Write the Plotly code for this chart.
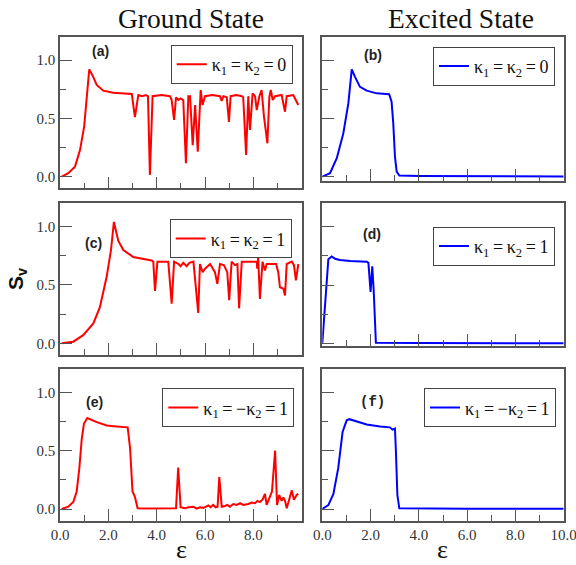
import plotly.graph_objects as go

# ---------------- data ----------------
# (a) ground state, kappa1 = kappa2 = 0
xa = [0.07, 0.34, 0.62, 0.83, 1.0, 1.13, 1.21, 1.34, 1.52, 1.79, 2.2, 2.97, 3.1, 3.24, 3.4, 3.55, 3.64, 3.72,
      3.83, 4.2, 4.55, 4.62, 4.72, 4.80, 4.90, 4.99, 5.10, 5.21, 5.31, 5.38, 5.49, 5.59, 5.70, 5.82, 5.90,
      6.0, 6.3, 6.62, 6.69, 6.76, 6.90, 6.99, 7.06, 7.3, 7.52, 7.58, 7.70, 7.79, 7.86, 7.97, 8.07, 8.14,
      8.25, 8.34, 8.44, 8.58, 8.66, 8.72, 8.80, 8.90, 9.17, 9.31, 9.38, 9.65, 9.76, 9.86]
ya = [0.0, 0.03, 0.086, 0.23, 0.43, 0.71, 0.92, 0.87, 0.786, 0.737, 0.72, 0.709, 0.51, 0.70, 0.69, 0.70, 0.69, 0.015,
      0.69, 0.70, 0.69, 0.657, 0.486, 0.68, 0.657, 0.67, 0.657, 0.115, 0.69, 0.69, 0.27, 0.614, 0.214, 0.743, 0.614,
      0.69, 0.70, 0.69, 0.65, 0.69, 0.68, 0.47, 0.69, 0.70, 0.69, 0.68, 0.186, 0.69, 0.40, 0.714, 0.69, 0.571,
      0.69, 0.743, 0.514, 0.286, 0.68, 0.743, 0.657, 0.69, 0.70, 0.557, 0.69, 0.70, 0.65, 0.614]

# (b) excited state, kappa1 = kappa2 = 0
xb = [0.0, 0.32, 0.6, 0.87, 1.08, 1.22, 1.35, 1.56, 1.84, 2.25, 2.77, 2.87, 2.94, 3.01, 3.08, 3.19, 4.0, 6.0, 8.0, 10.0]
yb = [0.0, 0.03, 0.158, 0.37, 0.63, 0.92, 0.857, 0.77, 0.737, 0.714, 0.706, 0.643, 0.457, 0.171, 0.043, 0.009,
      0.006, 0.004, 0.003, 0.002]

# (c) ground state, kappa1 = kappa2 = 1
xc = [0.07, 0.55, 0.96, 1.38, 1.65, 1.93, 2.11, 2.23, 2.41, 2.62, 3.03, 3.79, 3.86, 3.93, 4.03, 4.48, 4.62, 4.72,
      4.9, 4.99, 5.1, 5.24, 5.35, 5.52, 5.72, 5.79, 5.9, 6.0, 6.21, 6.41, 6.51, 6.62, 6.78, 6.92, 7.0, 7.1,
      7.24, 7.34, 7.41, 7.52, 8.14, 8.16, 8.2, 8.27, 8.38, 8.48, 8.55, 8.94, 9.03, 9.1, 9.24, 9.31, 9.38,
      9.59, 9.68, 9.76, 9.86]
yc = [0.0, 0.014, 0.07, 0.17, 0.31, 0.57, 0.80, 1.04, 0.88, 0.80, 0.74, 0.71, 0.70, 0.45, 0.70, 0.70, 0.34, 0.70,
      0.68, 0.66, 0.69, 0.66, 0.69, 0.70, 0.26, 0.68, 0.61, 0.64, 0.68, 0.61, 0.51, 0.68, 0.67, 0.61, 0.37, 0.70,
      0.67, 0.68, 0.30, 0.70, 0.70, 0.64, 0.74, 0.38, 0.70, 0.625, 0.68, 0.68, 0.61, 0.48, 0.47, 0.41, 0.68,
      0.70, 0.67, 0.54, 0.68]

# (d) excited state, kappa1 = kappa2 = 1
xd = [0.0, 0.11, 0.25, 0.39, 0.53, 0.73, 1.15, 1.84, 1.91, 2.0, 2.07, 2.13, 2.22, 4.0, 6.0, 8.0, 10.0]
yd = [0.0, 0.31, 0.72, 0.745, 0.725, 0.715, 0.705, 0.70, 0.69, 0.44, 0.66, 0.45, 0.005, 0.003, 0.002, 0.002, 0.001]

# (e) ground state, kappa1 = -kappa2 = 1
xe = [0.07, 0.34, 0.55, 0.69, 0.8, 0.9, 0.99, 1.13, 1.52, 1.93, 2.34, 2.8, 2.9, 3.0, 3.1, 3.21, 3.6, 4.0, 4.4,
      4.8, 4.89, 4.99, 5.17, 5.31, 5.52, 5.65, 5.79, 5.93, 6.04, 6.14, 6.23, 6.34, 6.44, 6.52, 6.59, 6.69,
      6.83, 6.92, 7.03, 7.17, 7.31, 7.45, 7.58, 7.79, 7.93, 8.07, 8.17, 8.27, 8.38, 8.48, 8.55, 8.66, 8.77,
      8.9, 8.98, 9.07, 9.17, 9.24, 9.31, 9.38, 9.48, 9.59, 9.68, 9.79, 9.86]
ye = [0.0, 0.02, 0.06, 0.15, 0.35, 0.60, 0.73, 0.78, 0.745, 0.716, 0.708, 0.70, 0.52, 0.15, 0.105, 0.006, 0.004,
      0.004, 0.005, 0.006, 0.355, 0.015, 0.006, 0.015, 0.02, 0.003, 0.015, 0.01, 0.02, 0.03, 0.015, 0.035,
      0.015, 0.02, 0.275, 0.02, 0.026, 0.035, 0.02, 0.043, 0.035, 0.05, 0.035, 0.043, 0.055, 0.05, 0.07,
      0.06, 0.08, 0.13, 0.035, 0.10, 0.15, 0.50, 0.035, 0.12, 0.07, 0.10, 0.07, 0.006, 0.09, 0.16, 0.08,
      0.12, 0.13]

# (f) excited state, kappa1 = -kappa2 = 1
xf = [0.0, 0.25, 0.46, 0.66, 0.84, 1.01, 1.12, 1.42, 1.84, 2.39, 2.8, 2.91, 3.01, 3.05, 3.11, 3.19, 4.0, 6.0,
      8.0, 10.0]
yf = [0.0, 0.034, 0.13, 0.35, 0.66, 0.76, 0.77, 0.75, 0.725, 0.708, 0.70, 0.68, 0.69, 0.49, 0.12, 0.006, 0.004,
      0.003, 0.002, 0.002]

panel_labels = ["(a)", "(b)", "(c)", "(d)", "(e)", "(f)"]
legend_names = ["κ<sub>1</sub>\u2009=\u2009κ<sub>2</sub>\u2009=\u20090", "κ<sub>1</sub>\u2009=\u2009κ<sub>2</sub>\u2009=\u20090",
                "κ<sub>1</sub>\u2009=\u2009κ<sub>2</sub>\u2009=\u20091", "κ<sub>1</sub>\u2009=\u2009κ<sub>2</sub>\u2009=\u20091",
                "κ<sub>1</sub>\u2009=\u2009−κ<sub>2</sub>\u2009=\u20091", "κ<sub>1</sub>\u2009=\u2009−κ<sub>2</sub>\u2009=\u20091"]
column_titles = ["Ground State", "Excited State"]
x_major = [0, 2, 4, 6, 8, 10]
x_text_left = ["0.0", "2.0", "4.0", "6.0", "8.0", ""]
x_text_right = ["0.0", "2.0", "4.0", "6.0", "8.0", "10.0"]
x_minor = [1, 3, 5, 7, 9]
y_major = [0.0, 0.5, 1.0]
y_text = ["0.0", "0.5", "1.0"]
y_minor = [0.25, 0.75]

# ---------------- figure ----------------
W, H = 576, 565
RED, BLUE = "#ff0000", "#0000ff"
AX = "#555555"
SERIF = "Liberation Serif"

xs = [xa, xb, xc, xd, xe, xf]
ys = [ya, yb, yc, yd, ye, yf]
colors = [RED, BLUE, RED, BLUE, RED, BLUE]

fig = go.Figure()
for i in range(6):
    sfx = "" if i == 0 else str(i + 1)
    fig.add_trace(go.Scatter(
        x=xs[i], y=ys[i], mode="lines", name=legend_names[i],
        line=dict(color=colors[i], width=2),
        xaxis="x" + sfx, yaxis="y" + sfx,
        legend="legend" + sfx, showlegend=True,
    ))

def px_x(p):
    return p / W

def px_y(p):
    return 1 - p / H

xdom_left = [px_x(60), px_x(301.7)]
xdom_right = [px_x(322.3), px_x(563.7)]
ydoms = [
    [px_y(188.3), px_y(36.7)], [px_y(180.7), px_y(36.7)],
    [px_y(355), px_y(203.3)], [px_y(345.7), px_y(203.3)],
    [px_y(520.7), px_y(369)], [px_y(520.7), px_y(369)],
]
yranges = [[-0.1, 1.2], [-0.035, 1.2], [-0.1, 1.2], [-0.02, 1.2], [-0.1, 1.2], [-0.1, 1.2]]

layout = dict(
    width=W, height=H, margin=dict(l=0, r=0, t=0, b=0, autoexpand=False),
    paper_bgcolor="white", plot_bgcolor="white",
    font=dict(family=SERIF, size=14, color="#333333"),
)

for i in range(6):
    sfx = "" if i == 0 else str(i + 1)
    left = (i % 2 == 0)
    bottom = (i >= 4)
    layout["xaxis" + sfx] = dict(
        domain=xdom_left if left else xdom_right,
        anchor="y" + sfx, range=[0, 10], automargin=False,
        showline=True, linecolor=AX, linewidth=1.5, mirror=True,
        showgrid=False, zeroline=False,
        ticks="inside", ticklen=12, tickwidth=1.2, tickcolor=AX,
        tickmode="array", tickvals=x_major,
        ticktext=x_text_left if left else x_text_right,
        showticklabels=bottom, ticklabeloverflow="allow",
        tickfont=dict(family=SERIF, size=15, color="#333333"),
        minor=dict(ticks="inside", ticklen=6, tickwidth=1.2, tickcolor=AX, tickvals=x_minor, showgrid=False),
    )
    layout["yaxis" + sfx] = dict(
        domain=ydoms[i], anchor="x" + sfx, range=yranges[i], automargin=False,
        showline=True, linecolor=AX, linewidth=1.5, mirror=True,
        showgrid=False, zeroline=False,
        ticks="inside", ticklen=12, tickwidth=1.2, tickcolor=AX,
        tickmode="array", tickvals=y_major, ticktext=y_text,
        showticklabels=left, ticklabeloverflow="allow",
        tickfont=dict(family=SERIF, size=15, color="#333333"),
        minor=dict(ticks="inside", ticklen=6, tickwidth=1.2, tickcolor=AX, tickvals=y_minor, showgrid=False),
    )

# legends (right/top corners in pixels)
legend_pos = [(292.7, 45), (555, 46.7), (291.7, 219.3), (555, 226.7), (294.3, 388.3), (556, 388.3)]
for i, (rx, ty) in enumerate(legend_pos):
    sfx = "" if i == 0 else str(i + 1)
    layout["legend" + sfx] = dict(
        x=px_x(rx), y=px_y(ty), xanchor="right", yanchor="top",
        bgcolor="white", bordercolor="#444444", borderwidth=1,
        font=dict(family=SERIF, size=18, color="#111111"),
        itemwidth=30, tracegroupgap=0,
    )

annotations = []
label_pos = [(100, 51), (372.5, 55), (93, 243), (372, 234), (94, 402), (372, 402)]
for i, (lx, ly) in enumerate(label_pos):
    fam = "Liberation Mono" if i == 5 else "Liberation Sans"
    annotations.append(dict(
        x=px_x(lx), y=px_y(ly), xref="paper", yref="paper", text="<b>%s</b>" % panel_labels[i],
        showarrow=False, xanchor="center", yanchor="middle",
        font=dict(family=fam, size=14, color="#222222"),
    ))

annotations.append(dict(x=px_x(191), y=px_y(19), xref="paper", yref="paper", text=column_titles[0],
                        showarrow=False, xanchor="center", yanchor="middle",
                        font=dict(family=SERIF, size=27.5, color="#111111")))
annotations.append(dict(x=px_x(461), y=px_y(19), xref="paper", yref="paper", text=column_titles[1],
                        showarrow=False, xanchor="center", yanchor="middle",
                        font=dict(family=SERIF, size=27.5, color="#111111")))
for cx in (181, 442):
    annotations.append(dict(x=px_x(cx), y=px_y(549), xref="paper", yref="paper", text="ε",
                            showarrow=False, xanchor="center", yanchor="middle",
                            font=dict(family=SERIF, size=26, color="#111111")))
annotations.append(dict(x=px_x(17), y=px_y(279), xref="paper", yref="paper",
                        text="<b>S<sub>v</sub></b>", textangle=-90,
                        showarrow=False, xanchor="center", yanchor="middle",
                        font=dict(family="Liberation Sans", size=21, color="#111111")))
layout["annotations"] = annotations

fig.update_layout(**layout)
fig.write_html(
    "out.html",
    config={"displayModeBar": False},
    post_script="document.body.style.margin='0';document.body.style.padding='0';"
                "document.documentElement.style.overflow='hidden';",
)
